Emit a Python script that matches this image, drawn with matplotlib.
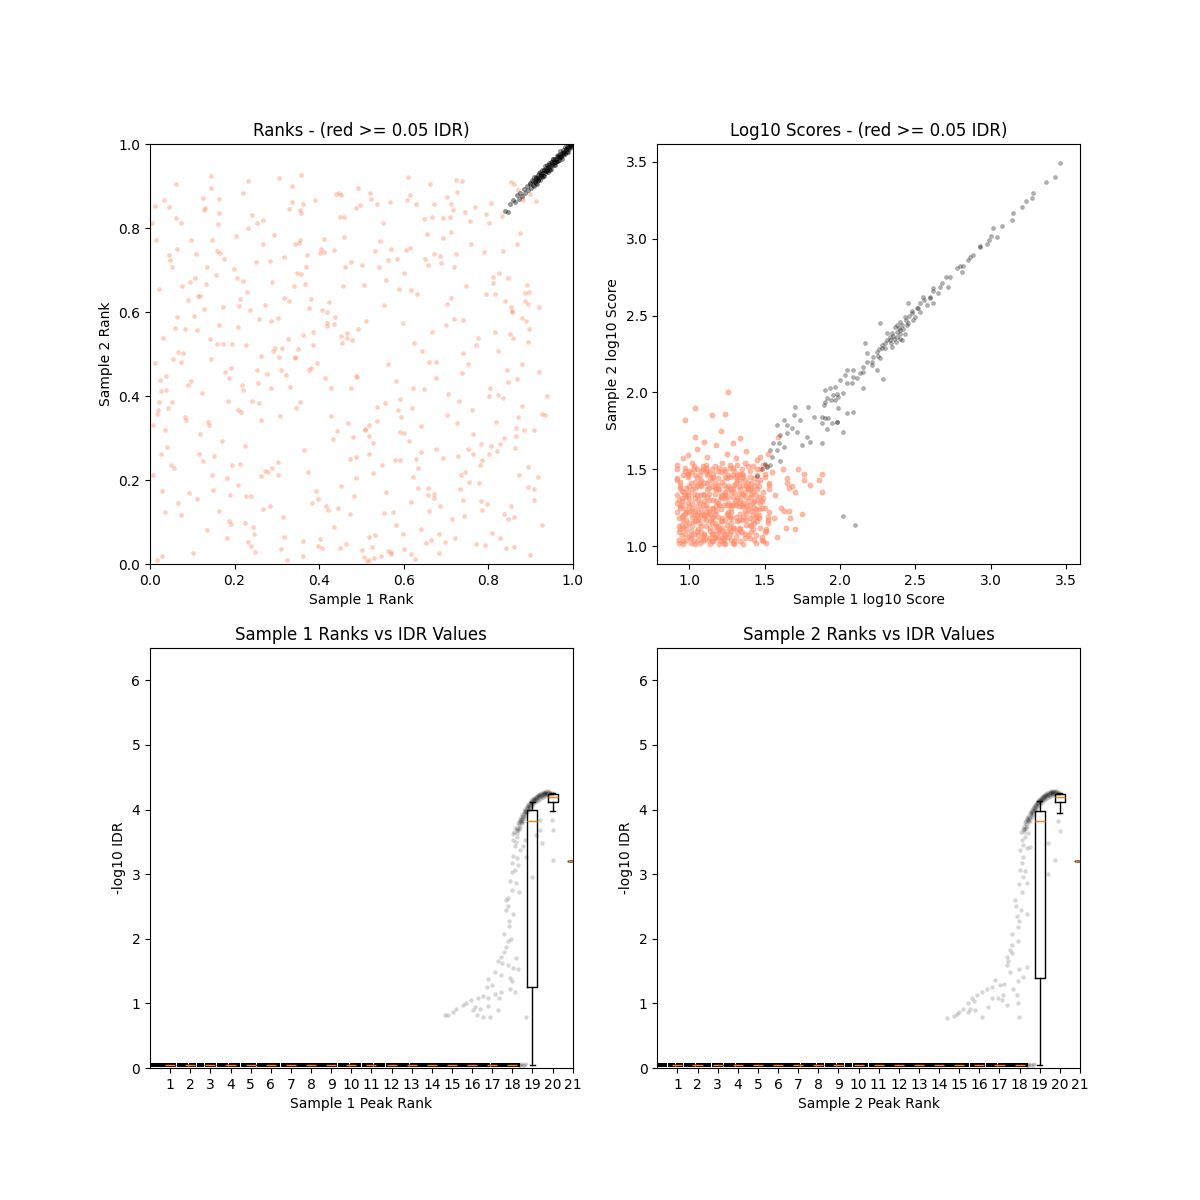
import numpy as np
import matplotlib
matplotlib.use("Agg")
import matplotlib.pyplot as plt

# ── Data ───────────────────────────────────────────────────────
IDR_THRESHOLD = 0.05
RED = "#ff8c69"

# Ranks panel: (sample1, sample2) normalised rank pairs, in thousandths
RANK_RED = [
    42, 371, 158, 745, 227, 163, 381, 632, 465, 538, 519, 64, 673, 857, 746, 219, 812, 683, 487, 447,
    571, 25, 283, 139, 864, 277, 17, 356, 73, 482, 349, 511, 602, 694, 136, 708, 795, 833, 436, 88,
    887, 645, 634, 182, 312, 514, 89, 427, 728, 256, 453, 879, 105, 590, 841, 38, 592, 314, 267, 762,
    171, 293, 418, 574, 709, 826, 244, 87, 855, 612, 536, 341, 61, 904, 658, 165, 395, 478, 687, 734,
    364, 271, 823, 402, 28, 19, 655, 786, 209, 366, 219, 673, 472, 118, 768, 849, 193, 524, 548, 235,
    741, 152, 33, 866, 517, 304, 897, 559, 126, 871, 683, 71, 328, 627, 806, 281, 251, 718, 489, 446,
    238, 44, 909, 318, 618, 653, 404, 749, 57, 229, 879, 586, 552, 812, 149, 177, 377, 462, 713, 791,
    667, 553, 302, 211, 835, 395, 114, 639, 581, 93, 8, 332, 835, 745, 427, 419, 786, 128, 219, 884,
    461, 706, 187, 443, 848, 107, 523, 868, 286, 579, 752, 274, 92, 168, 341, 662, 356, 385, 626, 12,
    871, 349, 564, 31, 203, 782, 737, 455, 482, 163, 164, 836, 644, 508, 592, 247, 15, 772, 358, 691,
    73, 812, 125, 246, 291, 507, 337, 899, 444, 133, 588, 655, 619, 372, 722, 61, 869, 761, 144, 488,
    908, 178, 815, 642, 731, 387, 694, 823, 506, 16, 478, 534, 362, 857, 214, 239, 147, 771, 39, 415,
    276, 453, 703, 355, 419, 601, 771, 48, 24, 437, 536, 858, 182, 204, 651, 726, 314, 111, 889, 579,
    598, 72, 47, 723, 829, 286, 385, 521, 607, 867, 118, 309, 894, 618, 441, 881, 778, 194, 262, 496,
    309, 463, 672, 157, 412, 744, 233, 912, 519, 261, 857, 603, 101, 27, 466, 549, 745, 839, 82, 351,
    155, 688, 866, 324, 408, 39, 66, 146, 719, 583, 323, 9, 27, 412, 629, 857, 272, 222, 571, 749,
    764, 263, 241, 832, 11, 479, 553, 616, 899, 22, 493, 895, 657, 181, 172, 525, 818, 339, 369, 708,
    436, 571, 699, 53, 131, 847, 612, 293, 352, 764, 803, 401, 51, 706, 509, 318, 229, 647, 783, 149,
    689, 717, 192, 96, 346, 372, 851, 548, 35, 124, 257, 584, 288, 672, 726, 886, 414, 444, 527, 217,
    838, 118, 457, 663, 601, 35, 218, 427, 161, 809, 928, 356, 759, 761, 22, 655, 579, 248, 386, 553,
    58, 562, 139, 332, 224, 281, 372, 736, 401, 59, 563, 477, 648, 822, 797, 143, 826, 694, 865, 305,
    391, 866, 714, 107, 177, 458, 502, 33, 886, 627, 4, 812, 427, 352, 875, 788, 295, 514, 641, 266,
    531, 15, 586, 367, 64, 751, 303, 586, 739, 912, 289, 229, 845, 463, 668, 827, 453, 186, 118, 639,
    211, 615, 677, 442, 806, 859, 488, 254, 29, 173, 541, 706, 318, 64, 163, 127, 185, 389, 771, 521,
    517, 331, 354, 772, 701, 568, 894, 183, 145, 896, 862, 41, 76, 663, 253, 813, 623, 207, 476, 418,
    811, 668, 41, 279, 236, 604, 659, 481, 362, 18, 624, 526, 554, 122, 727, 336, 108, 737, 446, 884,
    189, 165, 449, 827, 533, 69, 347, 693, 706, 404, 18, 367, 629, 249, 411, 775, 858, 537, 278, 219,
    753, 476, 463, 47, 802, 261, 54, 489, 673, 738, 206, 682, 884, 319, 112, 155, 329, 846, 598, 573,
    402, 741, 226, 522, 686, 138, 837, 301, 567, 861, 781, 236, 134, 81, 97, 435, 91, 628, 375, 609,
    633, 228, 892, 665, 305, 919, 198, 702, 438, 589, 12, 853, 742, 114, 514, 6, 263, 343, 342, 491,
    21, 386, 173, 611, 248, 28, 356, 844, 492, 559, 528, 287, 693, 776, 718, 708, 847, 433, 558, 172,
    897, 648, 809, 74, 777, 538, 602, 311, 543, 769, 417, 139, 331, 422, 267, 818, 151, 258, 67, 504,
    384, 146, 39, 447, 657, 711, 233, 52, 241, 388, 506, 664, 828, 61, 194, 236, 455, 527, 702, 873,
    614, 879, 311, 35, 82, 559, 873, 213, 128, 607, 432, 298, 761, 366, 921, 458, 283, 722, 575, 124,
    159, 523, 521, 884, 853, 139, 215, 362, 676, 274, 648, 417, 44, 736, 362, 55, 795, 643, 481, 302,
    547, 18, 786, 247, 255, 431, 423, 624, 833, 829, 186, 102, 307, 353, 63, 588, 614, 753, 741, 581,
    869, 441, 663, 905, 443, 317, 232, 801, 7, 213, 318, 731, 733, 178, 559, 676, 397, 43, 142, 535,
    293, 784, 468, 336, 622, 418, 815, 553, 73, 117, 164, 868, 343, 492, 519, 9, 748, 662, 895, 231,
    724, 915, 107, 681, 487, 205, 36, 318, 358, 836, 164, 568, 684, 27, 238, 161, 879, 476, 533, 745,
    473, 249, 584, 726, 94, 672, 754, 196, 641, 83, 335, 862, 207, 565, 801, 811, 592, 392, 123, 407,
    46, 851, 183, 61, 219, 415, 361, 546, 436, 748, 594, 351, 661, 127, 703, 619, 882, 867, 302, 242,
    511, 578, 112, 556, 908, 153, 459, 826, 85, 344, 676, 482, 246, 72, 736, 213, 342, 762, 856, 601,
    268, 132, 894, 528, 563, 723, 133, 667, 765, 309, 497, 854, 27, 261, 617, 24, 459, 778, 321, 449,
    881, 376, 373, 218, 632, 644, 16, 9, 408, 604, 176, 726, 717, 843, 824, 507, 209, 188, 583, 435,
    654, 51, 61, 823, 326, 536, 782, 285, 192, 467, 846, 682, 508, 322, 271, 616, 421, 129, 789, 743,
    317, 633, 537, 374, 792, 46, 912, 864, 147, 212, 224, 98, 452, 544, 673, 166, 804, 418, 98, 771,
    822, 269, 286, 419, 53, 385, 606, 747, 571, 28, 367, 667, 115, 263, 398, 154, 757, 816, 418, 567,
    127, 843, 711, 633, 476, 719, 304, 494, 861, 112, 692, 253, 30, 537, 641, 329, 524, 41, 258, 383,
    449, 37, 618, 148, 263, 209, 556, 383, 381, 466, 79, 503, 839, 627, 724, 737, 712, 856, 166, 741,
    741, 502, 253, 463, 137, 339, 855, 909, 213, 631, 487, 848, 664, 58, 49, 236, 392, 175, 502, 713,
    934, 355, 921, 612, 918, 206, 145, 925, 611, 922, 358, 927, 870, 890, 880, 872, 862, 905, 900, 880,
    938, 401, 927, 93,
]

RANK_BLACK = [
    839, 841, 846, 839, 852, 858, 858, 866, 863, 861, 867, 878, 872, 869, 876, 884, 881, 877, 885, 892,
    888, 884, 892, 899, 895, 890, 898, 906,
    900, 904, 902, 895, 903, 914, 905, 903, 906, 912, 908, 899, 909, 922, 910, 911, 912, 908, 913, 921,
    915, 904, 916, 919, 917, 926, 919, 914, 920, 920, 922, 934, 923, 915, 924, 929, 926, 925, 927, 937,
    928, 922, 930, 932, 931, 938, 933, 923, 934, 948, 935, 932, 937, 943, 938, 937, 940, 949, 941, 934,
    942, 945, 944, 955, 945, 941, 946, 946, 948, 956, 949, 940, 951, 956, 952, 950, 953, 965, 955, 949,
    956, 957, 957, 964, 959, 951, 960, 964, 962, 972, 963, 960, 964, 959, 966, 975, 967, 969, 968, 961,
    970, 976, 971, 984, 973, 972, 974, 965, 975, 979, 977, 985, 978, 974, 979, 979, 981, 992, 982, 976,
    984, 987, 985, 983, 986, 993, 988, 980, 989, 999, 990, 991, 992, 987, 993, 998, 995, 992, 996, 998,
    911, 910, 914, 920, 918, 914, 921, 930, 925, 927, 929, 923, 932, 937, 936, 936, 939, 936, 943, 951,
    947, 939, 950, 953, 954, 964, 958, 956, 961, 956, 965, 972, 969, 970, 972, 968, 976, 980, 980, 979,
    983, 989, 987, 980, 991, 993, 994, 997, 997, 995, 999, 999,
]

# Log10 scores panel: red peaks in hundredths, black peaks as values
SCORE_RED = [
    93, 104, 101, 110, 106, 117, 113, 122, 119, 128, 124, 133, 131, 141, 136, 146, 142, 152, 149, 103,
    95, 127, 99, 145, 108, 109, 111, 151, 117, 115, 126, 139, 129, 102, 138, 121, 141, 134, 147, 150,
    92, 153, 102, 113, 105, 133, 114, 101, 120, 137, 123, 108, 132, 146, 135, 126, 144, 119, 151, 111,
    96, 112, 98, 132, 109, 150, 112, 120, 118, 105, 127, 127, 128, 115, 139, 138, 140, 145, 148, 129,
    94, 139, 103, 103, 104, 123, 115, 144, 121, 131, 122, 154, 133, 128, 134, 110, 145, 116, 153, 140,
    97, 121, 100, 149, 107, 140, 110, 107, 116, 147, 125, 114, 130, 135, 137, 105, 143, 129, 146, 118,
    92, 143, 102, 125, 109, 104, 113, 134, 120, 111, 126, 122, 129, 151, 138, 117, 141, 138, 150, 147,
    95, 114, 98, 138, 105, 126, 111, 153, 117, 121, 123, 102, 132, 109, 135, 145, 144, 133, 152, 119,
    93, 130, 101, 123, 108, 143, 114, 116, 119, 149, 127, 137, 131, 106, 136, 127, 142, 111, 147, 132,
    96, 101, 99, 147, 106, 118, 112, 141, 118, 126, 124, 107, 128, 122, 139, 152, 140, 105, 149, 153,
    94, 126, 103, 108, 104, 138, 115, 103, 121, 133, 125, 144, 133, 117, 137, 123, 145, 150, 151, 110,
    97, 151, 100, 131, 107, 102, 110, 120, 116, 108, 122, 118, 130, 140, 134, 143, 143, 125, 148, 104,
    93, 109, 102, 154, 109, 121, 113, 147, 120, 101, 126, 128, 131, 130, 138, 139, 141, 113, 153, 137,
    95, 136, 98, 114, 105, 145, 111, 127, 117, 152, 123, 105, 129, 112, 135, 134, 144, 121, 146, 124,
    92, 122, 101, 105, 108, 149, 114, 110, 119, 140, 124, 135, 132, 143, 136, 128, 142, 116, 150, 145,
    96, 117, 99, 146, 106, 111, 112, 132, 118, 123, 127, 153, 128, 104, 139, 141, 140, 127, 147, 128,
    94, 142, 103, 120, 104, 131, 115, 150, 121, 116, 122, 110, 133, 126, 134, 103, 145, 137, 152, 115,
    97, 133, 100, 139, 107, 115, 110, 104, 116, 145, 125, 121, 130, 149, 137, 108, 143, 144, 149, 135,
    93, 102, 102, 128, 109, 152, 113, 138, 120, 109, 126, 146, 131, 119, 138, 114, 141, 132, 148, 106,
    95, 129, 98, 111, 105, 120, 111, 117, 117, 134, 124, 101, 129, 138, 135, 150, 144, 107, 151, 152,
    92, 150, 101, 102, 108, 124, 114, 112, 119, 144, 123, 140, 132, 116, 136, 133, 142, 120, 153, 122,
    96, 120, 99, 135, 106, 104, 112, 146, 118, 129, 127, 151, 128, 110, 139, 137, 140, 114, 146, 139,
    94, 138, 103, 152, 104, 116, 115, 125, 121, 103, 122, 112, 133, 134, 134, 121, 145, 146, 150, 109,
    97, 108, 100, 115, 107, 142, 110, 133, 116, 119, 125, 127, 130, 103, 137, 154, 143, 139, 147, 143,
    93, 113, 102, 137, 109, 134, 113, 105, 120, 151, 126, 120, 131, 145, 138, 126, 141, 109, 149, 131,
    95, 131, 98, 122, 105, 110, 111, 149, 117, 138, 123, 104, 129, 127, 135, 147, 144, 102, 152, 117,
    92, 144, 101, 107, 108, 139, 114, 121, 119, 113, 124, 131, 132, 153, 136, 101, 142, 128, 148, 125,
    96, 103, 99, 133, 106, 122, 112, 137, 118, 110, 127, 145, 128, 118, 139, 129, 140, 149, 151, 102,
    94, 125, 103, 150, 104, 101, 115, 115, 121, 132, 122, 116, 133, 139, 134, 112, 145, 130, 153, 141,
    97, 149, 100, 126, 107, 146, 110, 108, 116, 124, 125, 138, 130, 101, 137, 135, 143, 115, 146, 120,
    98, 104, 104, 146, 110, 129, 116, 103, 122, 142, 128, 125, 134, 137, 140, 118, 93, 118, 119, 119,
    101, 141, 107, 128, 113, 104, 119, 137, 125, 110, 131, 127, 137, 143, 96, 146, 143, 104, 110, 141,
    103, 116, 109, 106, 115, 139, 121, 124, 127, 112, 133, 147, 139, 107, 95, 107, 126, 132, 107, 133,
    99, 128, 105, 150, 111, 113, 117, 141, 123, 127, 129, 146, 135, 117, 92, 133, 141, 141, 115, 118,
    102, 119, 108, 113, 114, 143, 120, 127, 126, 106, 132, 131, 138, 132, 97, 124, 144, 124, 124, 149,
    100, 106, 106, 130, 112, 125, 118, 137, 124, 117, 130, 112, 136, 140, 94, 111, 147, 112, 113, 130,
    104, 142, 110, 118, 116, 130, 122, 105, 128, 135, 134, 130, 140, 137, 92, 128, 150, 125, 119, 106,
    98, 117, 103, 134, 109, 127, 115, 108, 121, 148, 127, 119, 133, 111, 139, 124, 145, 142, 101, 148,
    96, 135, 106, 107, 112, 149, 118, 113, 124, 145, 130, 128, 136, 119, 142, 135, 108, 120, 123, 134,
    95, 119, 105, 139, 111, 122, 117, 106, 123, 150, 129, 132, 135, 109, 141, 123, 100, 122, 127, 108,
    99, 159, 105, 163, 112, 158, 118, 166, 125, 160, 131, 157, 138, 162, 104, 171, 121, 175, 110, 168,
    145, 156, 152, 160, 155, 148, 157, 133, 156, 118, 158, 106, 161, 125, 164, 112, 166, 138, 162, 150,
    96, 157, 134, 170, 129, 167, 115, 185, 104, 190, 124, 186, 165, 141, 170, 135, 159, 171, 188, 147,
    188, 135, 167, 118, 163, 123, 170, 111, 175, 121, 180, 140, 186, 143, 172, 150, 176, 147, 147, 158,
    168, 139, 176, 143, 165, 144, 166, 123, 97, 182, 126, 200,
]

SCORE_BLACK = [
    3.460, 3.491, 3.427, 3.405, 3.367, 3.368, 3.283, 3.300, 3.272, 3.263, 3.235, 3.248, 3.206, 3.205,
    3.151, 3.166, 3.140, 3.122, 3.073, 3.083, 3.014, 3.068, 3.040, 3.014, 2.992, 2.992, 2.974, 2.966,
    2.930, 2.949, 2.885, 2.895, 2.852, 2.862, 2.819, 2.823, 2.775, 2.808, 2.808, 2.786, 2.704, 2.749,
    2.720, 2.688, 2.665, 2.688, 2.620, 2.678, 2.653, 2.645, 2.598, 2.612, 2.620, 2.580, 2.554, 2.623,
    2.532, 2.580, 2.576, 2.569, 2.510, 2.547, 2.477, 2.515, 2.455, 2.584, 2.532, 2.526, 2.488, 2.471,
    2.432, 2.493, 2.399, 2.460, 2.443, 2.439, 2.366, 2.428, 2.399, 2.406, 2.344, 2.385, 2.377, 2.363,
    2.333, 2.341, 2.410, 2.341, 2.300, 2.320, 2.344, 2.298, 2.267, 2.450, 2.311, 2.385, 2.278, 2.287,
    2.244, 2.265, 2.222, 2.233, 2.267, 2.222, 2.211, 2.200, 2.178, 2.254, 2.167, 2.320, 2.244, 2.146,
    2.289, 2.085, 2.156, 2.168, 2.134, 2.124, 2.090, 2.146, 2.112, 2.092, 2.045, 2.146, 2.034, 2.113,
    2.079, 2.059, 2.156, 2.027, 2.001, 2.081, 1.968, 2.037, 1.935, 2.027, 1.902, 2.016, 1.990, 1.972,
    2.023, 1.994, 1.957, 1.983, 1.891, 1.918, 1.913, 1.961, 1.990, 1.896, 2.045, 1.864, 2.090, 1.875,
    1.902, 1.831, 1.946, 1.799, 1.979, 1.809, 2.023, 1.744, 1.880, 1.842, 1.913, 1.759,
    2.35, 2.37, 2.38, 2.39, 2.36, 2.35, 2.40, 2.38, 2.42, 2.41, 2.33, 2.36, 2.39, 2.42, 2.45, 2.45,
    2.37, 2.33, 2.41, 2.44, 2.43, 2.38, 2.30, 2.29, 2.28, 2.31, 2.46, 2.50, 2.50, 2.49, 2.25, 2.24,
    2.21, 2.18, 2.18, 2.20, 2.48, 2.53, 2.52, 2.55, 2.56, 2.60, 2.60, 2.62, 2.34, 2.32, 2.31, 2.34,
    2.26, 2.28, 2.40, 2.35, 2.44, 2.47, 2.38, 2.44, 2.68, 2.71, 2.73, 2.75, 2.80, 2.82, 2.86, 2.88,
    2.93, 2.95, 3.00, 3.02, 2.62, 2.66, 2.15, 2.13, 2.09, 2.10, 2.05, 2.06, 1.98, 1.99, 1.94, 1.95,
    1.453, 1.456, 1.482, 1.499, 1.515, 1.516, 1.504, 1.532, 1.537, 1.527, 1.548, 1.577, 1.603, 1.556,
    1.559, 1.673, 1.593, 1.668, 1.630, 1.642, 1.582, 1.625, 1.648, 1.733, 1.581, 1.788, 1.626, 1.820,
    1.692, 1.853, 1.703, 1.907, 1.736, 1.820, 1.747, 1.658, 1.780, 1.712, 1.802, 1.679, 1.791, 1.907,
    1.825, 1.842, 1.880, 1.799, 1.924, 1.831, 1.979, 1.809, 1.681, 1.766, 1.714, 1.744, 1.648, 1.788,
    1.604, 1.723, 1.880, 1.668, 1.968, 1.950, 1.902, 1.940, 1.537, 1.625, 2.02, 1.195, 2.10, 1.14,
]

# Rank vs IDR panels: 20 * rank and -log10 IDR
BAND_RANK = [
    0.02, 0.21, 0.39, 0.62, 0.80, 1.01, 1.18, 1.42, 1.60, 1.79, 2.03, 2.20, 2.41, 2.58, 2.81, 3.00,
    3.19, 3.42, 3.60, 3.78, 4.01, 4.22, 4.39, 4.61, 4.80, 5.02, 5.19, 5.40, 5.62, 5.79, 6.00, 6.21,
    6.38, 6.60, 6.81, 7.00, 7.22, 7.39, 7.61, 7.80, 8.02, 8.19, 8.41, 8.60, 8.79, 9.01, 9.20, 9.42,
    9.59, 9.80, 10.02, 10.20, 10.39, 10.61, 10.80, 11.00, 11.21, 11.40, 11.59, 11.81, 12.00, 12.20,
    12.42, 12.60, 12.79, 13.01, 13.20, 13.40, 13.62, 13.80, 14.00, 14.19, 14.41, 14.60, 14.80, 15.01,
    15.20, 15.40, 15.61, 15.80, 16.00, 16.20, 16.41, 16.59, 16.80, 17.02, 17.20, 17.40, 17.61, 17.80,
    18.00, 18.15, 18.30,
]
BAND_IDR = 0.046

S1_POINTS = [
    17.71, 2.60, 17.79, 2.51, 18.04, 2.38, 17.84, 2.28, 17.58, 2.07, 17.79, 1.97, 17.68, 1.88,
    17.58, 1.80, 17.43, 1.72, 17.29, 1.65, 17.51, 1.62, 17.79, 1.59, 18.04, 1.54, 18.29, 1.53,
    17.13, 1.48, 17.46, 1.44, 17.88, 1.40, 17.96, 1.34, 16.80, 1.37, 16.97, 1.28, 16.72, 1.25,
    17.88, 1.23, 18.12, 1.18, 17.46, 1.18, 17.13, 1.15, 16.55, 1.11, 16.30, 1.09, 15.97, 1.06,
    16.80, 1.08, 17.35, 1.08, 15.72, 1.01, 15.56, 0.98, 16.14, 0.95, 16.39, 0.92, 16.80, 0.96,
    15.19, 0.92, 15.03, 0.87, 14.65, 0.82, 14.81, 0.82, 16.22, 0.82, 16.55, 0.79, 16.88, 0.79,
    18.70, 0.79, 17.29, 0.89, 16.06, 0.90,
    18.01, 3.53, 18.21, 3.58, 18.12, 3.43, 18.37, 3.37, 18.04, 3.28, 18.24, 3.25, 17.96, 3.17,
    18.12, 3.07, 17.96, 3.04, 18.29, 3.14, 17.79, 2.63, 18.17, 2.86, 18.34, 2.73, 18.96, 2.96,
    19.46, 3.48, 19.37, 3.69, 19.20, 3.60, 20.00, 3.22, 19.96, 3.84, 20.00, 3.69, 18.62, 3.53,
    18.54, 3.43, 18.70, 3.27, 19.37, 3.84, 18.10, 3.66, 18.15, 3.71, 18.05, 3.62, 18.20, 3.50,
    17.90, 2.90, 18.00, 2.75, 17.70, 2.45, 17.85, 2.20, 17.95, 2.00, 18.20, 1.70,
    18.35, 0.05, 18.45, 0.06, 18.52, 0.05, 18.60, 0.05, 18.70, 0.06, 18.40, 0.04,
    18.22, 3.64, 18.25, 3.72, 18.28, 3.79, 18.30, 3.68, 18.33, 3.76, 18.36, 3.84, 18.38, 3.73,
    18.41, 3.81, 18.43, 3.89, 18.46, 3.79, 18.48, 3.86, 18.50, 3.93, 18.53, 3.83, 18.55, 3.90,
    18.58, 3.97, 18.60, 3.87, 18.63, 3.94, 18.65, 4.01, 18.68, 3.92, 18.70, 3.99, 18.73, 4.05,
    18.75, 3.96, 18.78, 4.02, 18.80, 4.08, 18.83, 4.00, 18.85, 4.06, 18.88, 4.11, 18.90, 4.03,
    18.93, 4.09, 18.95, 4.14, 18.98, 4.06, 19.00, 4.12, 19.03, 4.16, 19.05, 4.09, 19.08, 4.14,
    19.10, 4.18, 19.13, 4.11, 19.16, 4.16, 19.18, 4.20, 19.21, 4.13, 19.24, 4.18, 19.26, 4.22,
    19.29, 4.15, 19.32, 4.20, 19.34, 4.23, 19.37, 4.17, 19.40, 4.21, 19.42, 4.25, 19.45, 4.19,
    19.48, 4.23, 19.50, 4.26, 19.53, 4.20, 19.56, 4.24, 19.58, 4.27, 19.61, 4.21, 19.64, 4.25,
    19.66, 4.28, 19.69, 4.22, 19.72, 4.26, 19.75, 4.28, 19.78, 4.23, 19.81, 4.27, 19.85, 4.25,
    19.90, 4.24, 19.95, 4.26,
    18.24, 3.69, 18.31, 3.81, 18.35, 3.70, 18.40, 3.86, 18.45, 3.83, 18.52, 3.88, 18.57, 3.93,
    18.62, 3.98, 18.67, 3.96, 18.72, 4.02, 18.77, 4.06, 18.82, 4.04, 18.87, 4.09, 18.92, 4.12,
    18.97, 4.10, 19.02, 4.14, 19.07, 4.17, 19.12, 4.15, 19.17, 4.19, 19.22, 4.21, 19.27, 4.19,
    19.33, 4.22, 19.38, 4.24, 19.44, 4.22, 19.50, 4.24, 19.55, 4.26, 19.60, 4.25, 19.67, 4.26,
    19.73, 4.24, 19.80, 4.26,
]

S2_POINTS = [
    18.11, 2.73, 17.78, 2.60, 17.83, 2.51, 18.36, 2.39, 17.99, 2.28, 17.94, 2.18, 17.61, 2.07,
    17.94, 1.97, 17.61, 1.90, 17.53, 1.83, 17.61, 1.78, 17.36, 1.72, 17.44, 1.65, 17.36, 1.59,
    18.36, 1.56, 17.99, 1.53, 17.53, 1.49, 18.16, 1.41, 17.94, 1.34, 16.78, 1.36, 17.03, 1.28,
    17.23, 1.30, 17.69, 1.22, 16.62, 1.26, 16.37, 1.22, 17.89, 1.13, 17.17, 1.13, 16.12, 1.18,
    16.94, 1.09, 15.87, 1.13, 16.62, 1.08, 15.62, 1.09, 17.11, 1.05, 15.71, 1.03, 15.46, 1.00,
    15.21, 0.92, 15.54, 0.92, 15.79, 0.89, 15.01, 0.87, 14.88, 0.84, 14.75, 0.80, 14.41, 0.78,
    16.12, 0.79, 17.36, 0.98, 17.94, 1.01, 17.99, 0.79, 15.46, 0.87, 16.45, 0.95,
    18.11, 3.53, 18.19, 3.45, 18.02, 3.37, 18.19, 3.26, 18.11, 3.17, 18.02, 3.07, 18.39, 3.41,
    18.27, 3.58, 18.44, 3.63, 18.52, 3.42, 18.39, 2.86, 18.16, 2.96, 19.43, 3.01, 19.43, 3.48,
    19.93, 3.83, 20.02, 3.67, 19.76, 3.22, 18.08, 3.66, 18.15, 3.70, 17.95, 2.85, 18.05, 2.45,
    17.85, 2.35, 18.25, 3.05,
    18.35, 0.05, 18.45, 0.06, 18.55, 0.05, 18.65, 0.05, 18.72, 0.06, 18.40, 0.04,
    18.20, 3.66, 18.24, 3.74, 18.27, 3.80, 18.29, 3.70, 18.32, 3.78, 18.35, 3.85, 18.37, 3.75,
    18.40, 3.83, 18.42, 3.90, 18.45, 3.80, 18.47, 3.87, 18.50, 3.94, 18.52, 3.84, 18.55, 3.91,
    18.57, 3.98, 18.60, 3.88, 18.62, 3.95, 18.65, 4.02, 18.67, 3.93, 18.70, 4.00, 18.72, 4.06,
    18.75, 3.97, 18.77, 4.03, 18.80, 4.09, 18.82, 4.01, 18.85, 4.07, 18.87, 4.12, 18.90, 4.04,
    18.92, 4.10, 18.95, 4.15, 18.97, 4.07, 19.00, 4.13, 19.02, 4.17, 19.05, 4.10, 19.07, 4.15,
    19.10, 4.19, 19.12, 4.12, 19.15, 4.17, 19.17, 4.21, 19.20, 4.14, 19.23, 4.19, 19.25, 4.23,
    19.28, 4.16, 19.31, 4.21, 19.33, 4.24, 19.36, 4.18, 19.39, 4.22, 19.41, 4.26, 19.44, 4.20,
    19.47, 4.24, 19.49, 4.27, 19.52, 4.21, 19.55, 4.25, 19.57, 4.28, 19.60, 4.22, 19.63, 4.26,
    19.65, 4.29, 19.68, 4.23, 19.71, 4.27, 19.74, 4.29, 19.77, 4.24, 19.80, 4.28, 19.84, 4.26,
    19.89, 4.25, 19.94, 4.27,
    18.23, 3.70, 18.30, 3.82, 18.34, 3.72, 18.39, 3.87, 18.44, 3.84, 18.51, 3.89, 18.56, 3.94,
    18.61, 3.99, 18.66, 3.97, 18.71, 4.03, 18.76, 4.07, 18.81, 4.05, 18.86, 4.10, 18.91, 4.13,
    18.96, 4.11, 19.01, 4.15, 19.06, 4.18, 19.11, 4.16, 19.16, 4.20, 19.21, 4.22, 19.26, 4.20,
    19.32, 4.23, 19.37, 4.25, 19.43, 4.23, 19.49, 4.25, 19.54, 4.27, 19.59, 4.26, 19.66, 4.27,
    19.72, 4.25, 19.79, 4.27,
]

# Boxplot summaries per rank bin (positions 1..21)
BOX_POS = list(range(1, 22))
S1_WHISLO = [0.046] * 18 + [0.046, 3.97, 3.20]
S1_Q1 = [0.046] * 18 + [1.25, 4.12, 3.20]
S1_MED = [0.046] * 18 + [3.83, 4.19, 3.20]
S1_Q3 = [0.046] * 18 + [4.00, 4.24, 3.20]
S1_WHISHI = [0.046] * 18 + [4.12, 4.25, 3.20]

S2_WHISLO = [0.046] * 18 + [0.046, 3.95, 3.20]
S2_Q1 = [0.046] * 18 + [1.40, 4.12, 3.20]
S2_MED = [0.046] * 18 + [3.83, 4.19, 3.20]
S2_Q3 = [0.046] * 18 + [3.98, 4.24, 3.20]
S2_WHISHI = [0.046] * 18 + [4.13, 4.25, 3.20]


def pairs(flat, scale=1.0):
    arr = np.asarray(flat, dtype=float).reshape(-1, 2) * scale
    return arr[:, 0], arr[:, 1]


def box_stats(lo, q1, med, q3, hi):
    return [dict(whislo=a, q1=b, med=c, q3=d, whishi=e, fliers=[])
            for a, b, c, d, e in zip(lo, q1, med, q3, hi)]


fig, axes = plt.subplots(2, 2, figsize=(12, 12), dpi=100)

# ── Ranks ──────────────────────────────────────────────────────
ax = axes[0, 0]
rx, ry = pairs(RANK_RED, 0.001)
ax.scatter(rx, ry, s=8, c=RED, edgecolors=RED, linewidths=0.4, alpha=0.4)
bx, by = pairs(RANK_BLACK, 0.001)
ax.scatter(bx, by, s=9, c="k", edgecolors="k", linewidths=0.4, alpha=0.4)
ax.set_xlim(0, 1)
ax.set_ylim(0, 1)
ax.set_xlabel("Sample 1 Rank")
ax.set_ylabel("Sample 2 Rank")
ax.set_title("Ranks - (red >= %.2f IDR)" % IDR_THRESHOLD)

# ── Log10 scores ───────────────────────────────────────────────
ax = axes[0, 1]
sx, sy = pairs(SCORE_RED, 0.01)
ax.scatter(sx, sy, s=14, c=RED, edgecolors=RED, linewidths=0.4, alpha=0.6)
kx, ky = pairs(SCORE_BLACK)
ax.scatter(kx, ky, s=8, c="k", edgecolors="k", linewidths=0.4, alpha=0.3)
ax.set_xlim(0.788, 3.593)
ax.set_ylim(0.883, 3.617)
ax.set_xlabel("Sample 1 log10 Score")
ax.set_ylabel("Sample 2 log10 Score")
ax.set_title("Log10 Scores - (red >= %.2f IDR)" % IDR_THRESHOLD)

# ── Ranks vs IDR ───────────────────────────────────────────────
panels = [
    (axes[1, 0], 1, S1_POINTS, box_stats(S1_WHISLO, S1_Q1, S1_MED, S1_Q3, S1_WHISHI)),
    (axes[1, 1], 2, S2_POINTS, box_stats(S2_WHISLO, S2_Q1, S2_MED, S2_Q3, S2_WHISHI)),
]
for ax, idx, pts, stats in panels:
    ax.scatter(BAND_RANK, [BAND_IDR] * len(BAND_RANK), s=8, marker="s",
               c="k", linewidths=0)
    px, py = pairs(pts)
    ax.scatter(px, py, s=10, c="k", linewidths=0, alpha=0.16)
    ax.bxp(stats, positions=BOX_POS, widths=0.5, showfliers=False,
           medianprops=dict(color="C1"))
    ax.set_xticks(BOX_POS, [str(p) for p in BOX_POS])
    ax.set_xlim(0, 21)
    ax.set_ylim(0, 6.5)
    ax.set_title("Sample %i Ranks vs IDR Values" % idx)
    ax.set_xlabel("Sample %i Peak Rank" % idx)
    ax.set_ylabel("-log10 IDR")

fig.savefig("out.png", dpi=100)
